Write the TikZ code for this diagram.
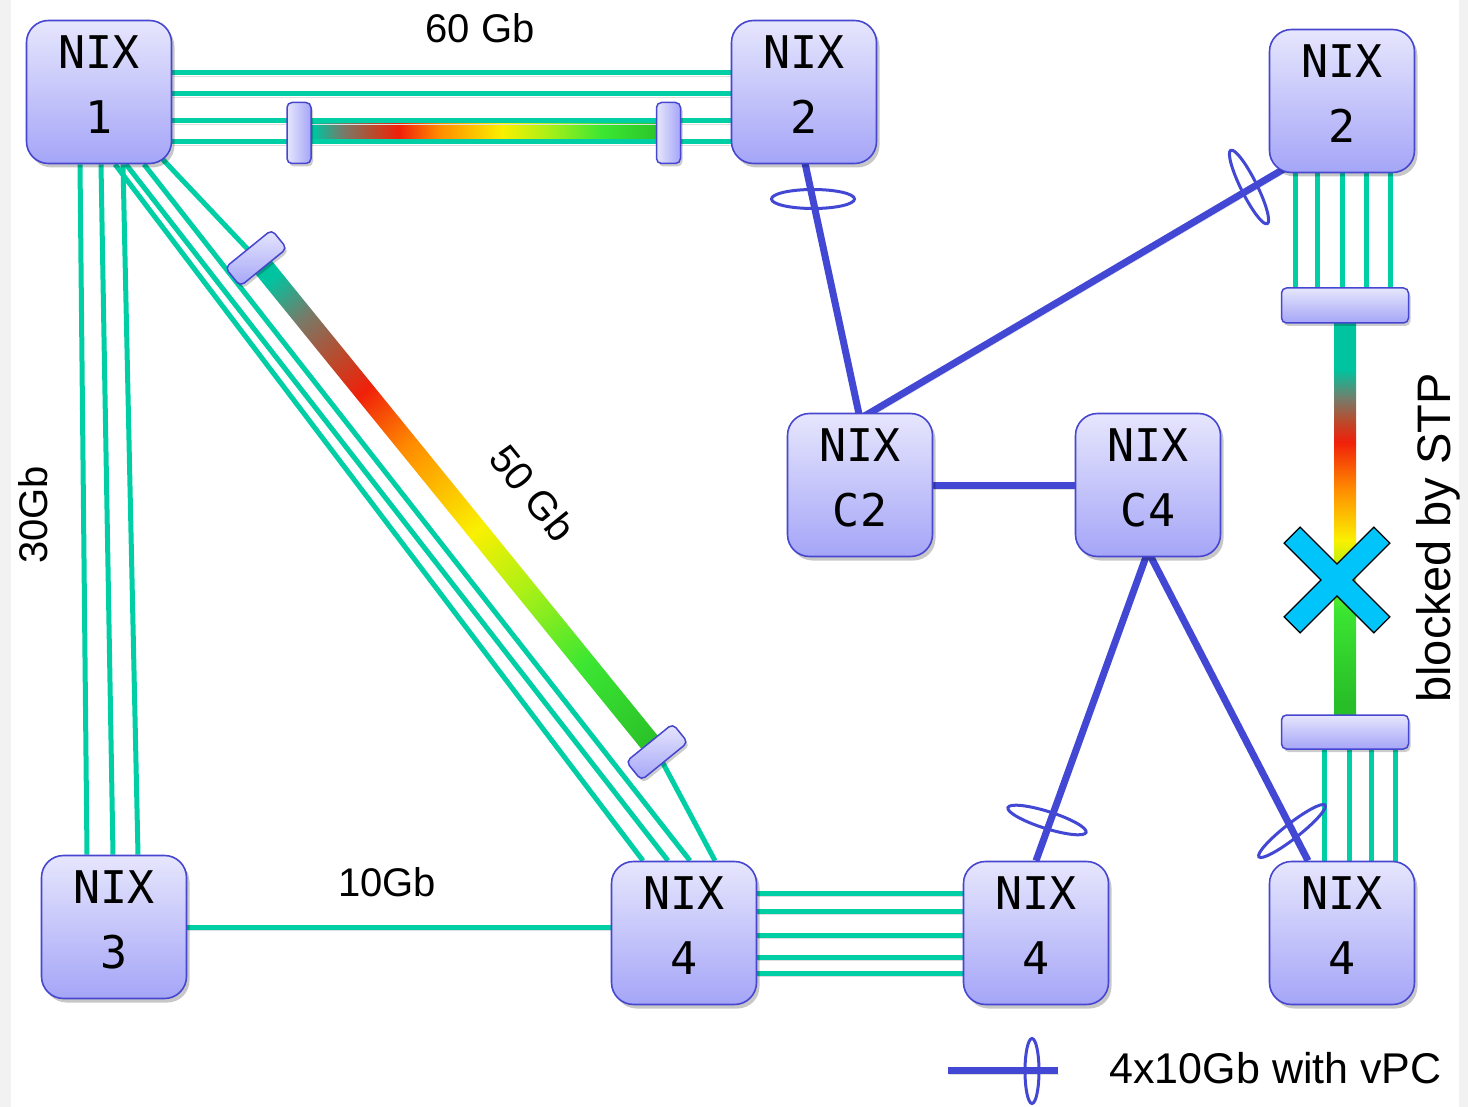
\documentclass[tikz,border=0pt]{standalone}
\usepackage{fontspec}
\setmainfont{Liberation Sans}
\newfontfamily\nixmono{DejaVu Sans Mono}
\usepackage{tikz}
\usetikzlibrary{
	positioning,
	calc,
	shadows,
	shapes.geometric
}

\definecolor{nixedge}{RGB}{70,70,208}
\definecolor{nixtop}{RGB}{230,230,253}
\definecolor{nixbottom}{RGB}{165,165,248}
\definecolor{fibergreen}{RGB}{0,206,165}
\definecolor{vpcblue}{RGB}{66,72,212}
\definecolor{stpcyan}{RGB}{0,196,250}
\definecolor{shteal}{RGB}{0,196,160}
\definecolor{shgray}{RGB}{120,122,104}
\definecolor{shbrown}{RGB}{185,75,45}
\definecolor{shred}{RGB}{240,32,10}
\definecolor{shorange}{RGB}{255,140,0}
\definecolor{shyellow}{RGB}{250,240,0}
\definecolor{shlime}{RGB}{172,240,22}
\definecolor{shgreen}{RGB}{60,230,50}
\definecolor{shdark}{RGB}{40,190,40}

\pgfdeclarehorizontalshading{trunk}{100bp}{%
	color(0bp)=(shteal); color(25bp)=(shteal); color(27bp)=(shteal);
	color(31bp)=(shgray); color(35bp)=(shbrown); color(38.5bp)=(shred);
	color(44bp)=(shorange); color(52.5bp)=(shyellow); color(58.5bp)=(shlime);
	color(66bp)=(shgreen); color(75bp)=(shdark); color(100bp)=(shdark)}
\pgfdeclarehorizontalshading{trunkv}{100bp}{%
	color(0bp)=(shteal); color(25bp)=(shteal); color(32.5bp)=(shteal);
	color(36bp)=(shgray); color(38.5bp)=(shbrown); color(41bp)=(shred);
	color(46.5bp)=(shorange); color(52.5bp)=(shyellow); color(56bp)=(shlime);
	color(60.5bp)=(shgreen); color(71.5bp)=(shdark); color(100bp)=(shdark)}

\newcommand\nixlabel[1]{NIX\\#1\rule[-14pt]{0pt}{14pt}}

\pgfdeclarelayer{links}
\pgfsetlayers{links,main}

\begin{document}
\begin{tikzpicture}[x=1pt,y=-1pt,
		nix/.style={draw=nixedge,line width=1.6pt,rounded corners=22pt,
			minimum width=145pt,minimum height=143pt,inner sep=0pt,
			top color=nixtop,bottom color=nixbottom,align=center,
			font=\nixmono\fontsize{45}{65}\selectfont,
			drop shadow={shadow xshift=3pt,shadow yshift=-4pt,opacity=.22,fill=black}},
		plug/.style={draw=nixedge,line width=1.5pt,rounded corners=5pt,inner sep=0pt,
			top color=nixtop,bottom color=nixbottom,
			drop shadow={shadow xshift=2pt,shadow yshift=-3pt,opacity=.2,fill=black}},
		fiber/.style={fibergreen,line width=5pt,
			preaction={draw=black!13,transform canvas={xshift=1pt,yshift=-3pt}}},
		vpc/.style={vpcblue,line width=7pt,
			preaction={draw=black!13,transform canvas={xshift=1pt,yshift=-4pt}}},
		ring/.style={ellipse,draw=vpcblue,line width=3pt,inner sep=0pt},
		speed/.style={font=\fontsize{40}{48}\selectfont}
	]
	\useasboundingbox (0,0) rectangle (1468,1107);

	% switches
	\node[nix] (n1)  at (99,92)    {\nixlabel{1}};
	\node[nix] (n2)  at (804,92)   {\nixlabel{2}};
	\node[nix] (n2r) at (1342,101) {\nixlabel{2}};
	\node[nix] (c2)  at (860,485)  {\nixlabel{C2}};
	\node[nix] (c4)  at (1148,485) {\nixlabel{C4}};
	\node[nix] (n3)  at (114,927)  {\nixlabel{3}};
	\node[nix] (n4l) at (684,933)  {\nixlabel{4}};
	\node[nix] (n4m) at (1036,933) {\nixlabel{4}};
	\node[nix] (n4r) at (1342,933) {\nixlabel{4}};

	% port channel ends
	\node[plug,minimum width=24pt,minimum height=61pt,
		left color=nixtop,right color=nixbottom] (pa) at (299,133) {};
	\node[plug,minimum width=24pt,minimum height=61pt,
		left color=nixtop,right color=nixbottom] (pb) at (668.5,133) {};
	\node[plug,minimum width=24pt,minimum height=60pt,rotate=-50.9] (pc) at (256,258) {};
	\node[plug,minimum width=24pt,minimum height=60pt,rotate=-50.9] (pd) at (657,752) {};
	\node[plug,minimum width=127pt,minimum height=35pt] (pe) at (1345,305.5) {};
	\node[plug,minimum width=127pt,minimum height=34pt] (pf) at (1345,732) {};

	\begin{pgfonlayer}{links}
		\fill[white] (0,0) rectangle (1468,1107);
		\fill[black!5] (0,0) rectangle (11,1107);
		\fill[black!5] (1459,0) rectangle (1468,1107);

		% aggregated trunks
		\shade[shading=trunk] ($(pa.center)+(0,-10.5)$) rectangle ($(pb.center)+(0,10.5)$);
		\shade[shading=trunkv,shading angle=-90] ($(pe.center)+(-11,0)$) rectangle ($(pf.center)+(11,0)$);
		\begin{scope}[transform canvas={shift={(pc.center)},rotate=-50.9}]
			\shade[shading=trunk] (0,-10.5) rectangle (636.3,10.5);
		\end{scope}

		% 60 Gb
		\foreach \dy in {19,-2,-29,-50}
			\draw[fiber] ([yshift=\dy pt]n1.east) -- ([yshift=\dy pt]n2.west);
		% 30Gb
		\foreach \a/\b in {-19/-27,2/-1,24/24}
			\draw[fiber] ([xshift=\a pt]n1.south) -- ([xshift=\b pt]n3.north);
		% 50 Gb
		\foreach \a/\b in {16/-41,27/-16,45/6}
			\draw[fiber] ([xshift=\a pt]n1.south) -- ([xshift=\b pt]n4l.north);
		\draw[fiber] (n1.center) -- (pc.center);
		\draw[fiber] (pd.center) -- ([xshift=31pt]n4l.north);
		% 10Gb
		\draw[fiber] (n3.east) -- (n3.east -| n4l.west);
		\foreach \dy in {40,22,-2,-24,-40}
			\draw[fiber] ([yshift=\dy pt]n4l.east) -- ([yshift=\dy pt]n4m.west);
		% blocked trunk
		\foreach \dx in {-47,-25,0,24,48}
			\draw[fiber] ([xshift=\dx pt]n2r.south) -- ([xshift=\dx pt]n2r.south |- pe.center);
		\foreach \dx in {-18,7,29,53}
			\draw[fiber] ([xshift=\dx pt]n4r.north |- pf.center) -- ([xshift=\dx pt]n4r.north);

		% vPC
		\draw[vpc] ([yshift=6pt]n2.south) -- ([yshift=-6pt]c2.north);
		\draw[vpc] ([yshift=-6pt]c2.north) -- ([xshift=18pt,yshift=6pt]n2r.south west);
		\draw[vpc] (c2.east) -- (c4.west);
		\draw[vpc] ([yshift=6pt]c4.south) -- (n4m.north);
		\draw[vpc] ([yshift=6pt]c4.south) -- ([xshift=-34pt]n4r.north);
	\end{pgfonlayer}

	% vPC rings
	\node[ring,minimum width=83pt,minimum height=19pt] (r1) at (813,199) {};
	\node[ring,minimum width=82pt,minimum height=16pt,rotate=-63.6] (r2) at (1249,187) {};
	\node[ring,minimum width=82pt,minimum height=17pt,rotate=-17.6] (r3) at (1047,820) {};
	\node[ring,minimum width=84pt,minimum height=15pt,rotate=38] (r4) at (1292,831) {};

	% STP block
	\coordinate (stp) at (1337,580);
	\draw[line width=24pt] ($(stp)+(-45.3,-45.3)$) -- ($(stp)+(45.3,45.3)$)
		($(stp)+(-45.3,45.3)$) -- ($(stp)+(45.3,-45.3)$);
	\draw[stpcyan,line width=21pt] ($(stp)+(-44.3,-44.3)$) -- ($(stp)+(44.3,44.3)$)
		($(stp)+(-44.3,44.3)$) -- ($(stp)+(44.3,-44.3)$);

	% labels
	\node[speed] (l60) at (480,28) {60 Gb};
	\node[speed,rotate=-51] (l50) at (533,493) {50 Gb};
	\node[speed,rotate=90] (l30) at (33,515) {30Gb};
	\node[speed] (l10) at (387,882) {10Gb};
	\node[font=\fontsize{47}{56}\selectfont,rotate=90] (lstp) at (1438,538) {blocked by STP};

	% legend
	\coordinate (lega) at (948,1070);
	\coordinate (legb) at (1058,1070);
	\draw[vpc] (lega) -- (legb);
	\node[ring,minimum width=14pt,minimum height=65pt] (legring) at (1032,1071) {};
	\node[font=\fontsize{43}{52}\selectfont,anchor=west] (legtxt) at (1106,1068) {4x10Gb with vPC};
\end{tikzpicture}
\end{document}
